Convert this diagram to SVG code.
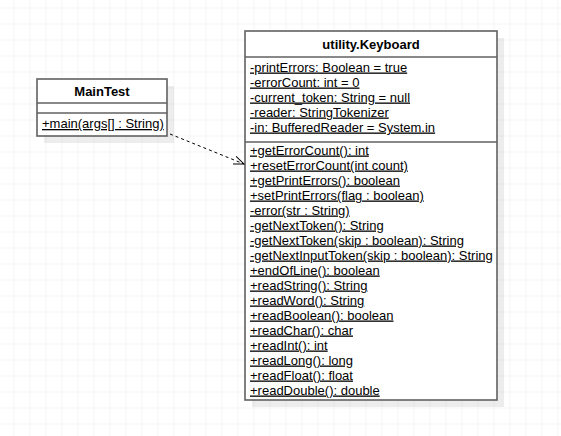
<svg xmlns="http://www.w3.org/2000/svg" width="561" height="436" viewBox="0 0 561 436">
<defs>
<pattern id="grid" x="13.5" y="7.5" width="16" height="16" patternUnits="userSpaceOnUse">
<path d="M0,0 H16 M0,0 V16" stroke="#ebebeb" stroke-width="1" fill="none"/>
</pattern>
<marker id="open" viewBox="-12 -6 14 12" refX="0" refY="0" markerWidth="14" markerHeight="12" markerUnits="userSpaceOnUse" orient="auto">
<path d="M-10.2,-4.1 L0,0 L-10.2,4.1" fill="none" stroke="#000" stroke-width="1"/>
</marker>
<style>
.box{fill:#fff;stroke:#616161;stroke-width:1.6}
.sep{stroke:#616161;stroke-width:1.6;fill:none}
.shadow{fill:#000;fill-opacity:0.07}
.title{font-family:"Liberation Sans",Arial,sans-serif;font-size:13px;font-weight:bold;fill:#000;text-anchor:middle}
.row{font-family:"Liberation Sans",Arial,sans-serif;font-size:13px;fill:#000;text-decoration:underline}
.edge{fill:none;stroke:#000;stroke-width:1;stroke-dasharray:3 3}
</style>
</defs>
<rect x="0" y="0" width="561" height="436" fill="#fff"/>
<rect x="0" y="0" width="561" height="436" fill="url(#grid)"/>

<g id="MainTest">
<rect class="shadow" x="44" y="86" width="130" height="57"/>
<rect class="box" x="37" y="79" width="130" height="57"/>
<line class="sep" x1="37" y1="103" x2="167" y2="103"/>
<line class="sep" x1="37" y1="113" x2="167" y2="113"/>
<text class="title" x="102" y="96">MainTest</text>
<text class="row" x="42" y="128">+main(args[] : String)</text>
</g>

<g id="Keyboard">
<rect class="shadow" x="252" y="38" width="252" height="369"/>
<rect class="box" x="245" y="31" width="252" height="369"/>
<line class="sep" x1="245" y1="57" x2="497" y2="57"/>
<line class="sep" x1="245" y1="142" x2="497" y2="142"/>
<text class="title" x="371" y="48.5">utility.Keyboard</text>
<text class="row" x="250" y="71.5">-printErrors: Boolean = true</text>
<text class="row" x="250" y="86.5">-errorCount: int = 0</text>
<text class="row" x="250" y="101.5">-current_token: String = null</text>
<text class="row" x="250" y="116.5">-reader: StringTokenizer</text>
<text class="row" x="250" y="131.5">-in: BufferedReader = System.in</text>
<text class="row" x="250" y="154.5">+getErrorCount(): int</text>
<text class="row" x="250" y="169.5">+resetErrorCount(int count)</text>
<text class="row" x="250" y="184.5">+getPrintErrors(): boolean</text>
<text class="row" x="250" y="199.5">+setPrintErrors(flag : boolean)</text>
<text class="row" x="250" y="214.5">-error(str : String)</text>
<text class="row" x="250" y="229.5">-getNextToken(): String</text>
<text class="row" x="250" y="244.5">-getNextToken(skip : boolean): String</text>
<text class="row" x="250" y="259.5">-getNextInputToken(skip : boolean): String</text>
<text class="row" x="250" y="274.5">+endOfLine(): boolean</text>
<text class="row" x="250" y="289.5">+readString(): String</text>
<text class="row" x="250" y="304.5">+readWord(): String</text>
<text class="row" x="250" y="319.5">+readBoolean(): boolean</text>
<text class="row" x="250" y="334.5">+readChar(): char</text>
<text class="row" x="250" y="349.5">+readInt(): int</text>
<text class="row" x="250" y="364.5">+readLong(): long</text>
<text class="row" x="250" y="379.5">+readFloat(): float</text>
<text class="row" x="250" y="394.5">+readDouble(): double</text>
</g>

<g id="connectors">
<path class="edge" d="M170,134 L244,164" marker-end="url(#open)"/>
</g>
</svg>
